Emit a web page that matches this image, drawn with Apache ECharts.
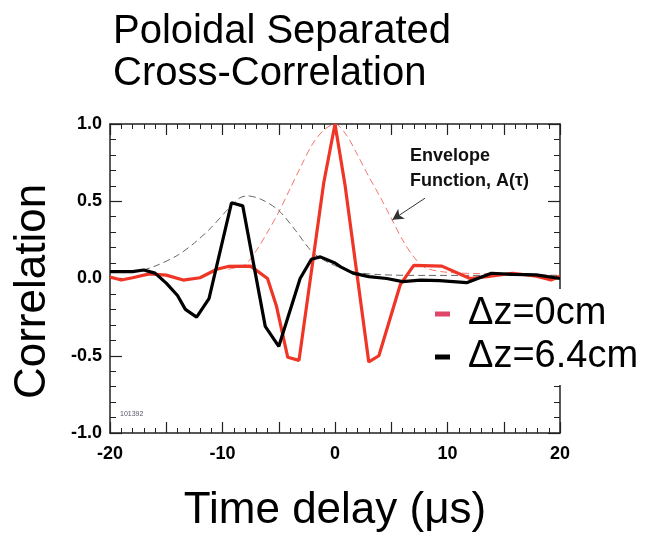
<!DOCTYPE html>
<html>
<head>
<meta charset="utf-8">
<script src="https://cdn.jsdelivr.net/npm/echarts@6/dist/echarts.min.js"></script>
<style>
html, body { margin: 0; padding: 0; background: #fff; }
#chart { width: 647px; height: 533px; }
</style>
</head>
<body>
<div id="chart"></div>
<script>
// time delay (us) , correlation
const dz0 = [
  [-20, 0.01], [-19, -0.01], [-18, 0.005], [-16.5, 0.03], [-15, 0.022], [-13.5, -0.01],
  [-12, 0.005], [-10.5, 0.06], [-9.5, 0.078], [-7.5, 0.08], [-6, 0.0], [-5.2, -0.18],
  [-4.2, -0.51], [-3.2, -0.53], [-1, 0.62], [0, 1.0], [0.9, 0.6], [3, -0.54], [3.9, -0.5],
  [5.8, -0.04], [7, 0.085], [9.5, 0.08], [12, 0.0], [13.5, 0.012], [15.8, 0.034],
  [17.9, 0.015], [19.2, -0.01], [20, 0.015]
];
const dz64 = [
  [-20, 0.045], [-18, 0.045], [-17, 0.055], [-16, 0.035], [-15, -0.03], [-14, -0.11],
  [-13.3, -0.2], [-12.3, -0.25], [-11.2, -0.13], [-9.2, 0.49], [-8.2, 0.47], [-6.2, -0.31],
  [-5.0, -0.44], [-3.1, 0.0], [-2.1, 0.125], [-1.3, 0.14], [0, 0.1], [0.5, 0.075],
  [1.6, 0.035], [3, 0.012], [4.6, 0.0], [6, -0.02], [7.6, -0.01], [9.3, -0.014],
  [11.7, -0.027], [13.9, 0.034], [15.8, 0.027], [17.9, 0.023], [20, 0.0]
];
// envelope functions A(tau)
const env0 = [
  [-9.5, 0.06], [-8, 0.09], [-7, 0.18], [-6, 0.3], [-5, 0.43], [-4, 0.58], [-3, 0.73],
  [-2, 0.87], [-1, 0.96], [0, 1.0], [1, 0.93], [2, 0.8], [3, 0.66], [4, 0.53], [5, 0.39],
  [6, 0.25], [7, 0.14], [8, 0.07], [10, 0.04], [14, 0.03], [20, 0.02]
];
const env64 = [
  [-20, 0.045], [-17.5, 0.05], [-16, 0.08], [-14, 0.15], [-12.5, 0.23], [-11, 0.33],
  [-9.5, 0.45], [-8.5, 0.52], [-7.8, 0.535], [-6.5, 0.51], [-5, 0.44], [-3.5, 0.31],
  [-2, 0.17], [-0.5, 0.1], [1.5, 0.045], [4, 0.025], [8, 0.02], [12, 0.02], [16, 0.02], [20, 0.02]
];
const seriesNames = ['\u0394z=0cm', '\u0394z=6.4cm'];
const arrowFrom = [8.0, 0.52];
const arrowTo = [5.1, 0.38];

const font = "'Liberation Sans', Arial, Helvetica, sans-serif";
const axisColor = '#222';

const chart = echarts.init(document.getElementById('chart'));

const xBase = {
  type: 'value', min: -20, max: 20, interval: 5,
  axisLine: { onZero: false, lineStyle: { color: axisColor, width: 1.5 } },
  axisTick: { inside: true, length: 11, lineStyle: { color: axisColor, width: 1.2 } },
  minorTick: { show: true, splitNumber: 5, length: 5, lineStyle: { color: axisColor, width: 1 } },
  splitLine: { show: false }
};
const yBase = {
  type: 'value', min: -1, max: 1, interval: 0.5,
  axisLine: { onZero: false, lineStyle: { color: axisColor, width: 1.5 } },
  axisTick: { inside: true, length: 12, lineStyle: { color: axisColor, width: 1.2 } },
  minorTick: { show: true, splitNumber: 5, length: 6, lineStyle: { color: axisColor, width: 1 } },
  splitLine: { show: false }
};

const option = {
  animation: false,
  title: {
    text: 'Poloidal Separated\nCross-Correlation',
    left: 108, top: 6,
    textStyle: { fontFamily: font, fontSize: 40, fontWeight: 'normal', lineHeight: 42, color: '#000' }
  },
  grid: { left: 110, right: 87, top: 124, bottom: 100, outerBoundsMode: 'none' },
  legend: {
    data: [
      { name: seriesNames[0], itemStyle: { color: '#e0456a' } },
      { name: seriesNames[1], itemStyle: { color: '#000' } }
    ],
    orient: 'vertical', left: 428, top: 289,
    padding: [5, 4, 8, 7],
    backgroundColor: '#fff',
    icon: 'rect', itemWidth: 15, itemHeight: 5, itemGap: 3,
    selectedMode: false,
    textStyle: { fontFamily: font, fontSize: 38, lineHeight: 40, color: '#000', padding: [0, 0, 0, 13] }
  },
  xAxis: [
    Object.assign({}, xBase, {
      position: 'bottom',
      name: 'Time delay (\u03bcs)', nameLocation: 'middle', nameGap: 56,
      nameTextStyle: { fontFamily: font, fontSize: 44, color: '#000' },
      axisLabel: {
        margin: 12, fontFamily: font, fontSize: 18, fontWeight: 'bold', color: '#000',
        formatter: v => (v % 10 === 0 ? String(v) : '')
      }
    }),
    Object.assign({}, xBase, { position: 'top', axisLabel: { show: false } })
  ],
  yAxis: [
    Object.assign({}, yBase, {
      position: 'left',
      name: 'Correlation', nameLocation: 'middle', nameGap: 55,
      nameTextStyle: { fontFamily: font, fontSize: 44, color: '#000', padding: [0, 26, 0, 0] },
      axisLabel: {
        margin: 8, fontFamily: font, fontSize: 18, fontWeight: 'bold', color: '#000',
        formatter: v => v.toFixed(1)
      }
    }),
    Object.assign({}, yBase, { position: 'right', axisLabel: { show: false } })
  ],
  series: [
    {
      name: 'A0', type: 'line', data: env0, smooth: 0.3, showSymbol: false, silent: true,
      lineStyle: { color: 'rgba(240,70,60,0.75)', width: 1, type: [7, 4] },
      markLine: {
        silent: true, symbol: ['none', 'arrow'], symbolSize: [9, 11],
        label: { show: false },
        lineStyle: { color: '#333', width: 1, type: 'solid' },
        data: [[{ coord: arrowFrom }, { coord: arrowTo }]]
      }
    },
    {
      name: 'A64', type: 'line', data: env64, smooth: 0.3, showSymbol: false, silent: true,
      lineStyle: { color: '#666', width: 1, type: [7, 4] }
    },
    {
      name: seriesNames[0], type: 'line', data: dz0, showSymbol: false,
      lineStyle: { color: '#ef3526', width: 3.2 }, itemStyle: { color: '#ef3526' }
    },
    {
      name: seriesNames[1], type: 'line', data: dz64, showSymbol: false,
      lineStyle: { color: '#000', width: 3.2 }, itemStyle: { color: '#000' }
    }
  ],
  graphic: [
    {
      type: 'text', left: 410, top: 144,
      style: {
        text: 'Envelope\nFunction, A(\u03c4)', fill: '#111',
        font: 'bold 18px ' + font, lineHeight: 25
      }
    },
    {
      type: 'text', left: 120, top: 411,
      style: { text: '101392', fill: '#556', font: '7px ' + font }
    }
  ]
};

chart.setOption(option);
</script>
</body>
</html>
